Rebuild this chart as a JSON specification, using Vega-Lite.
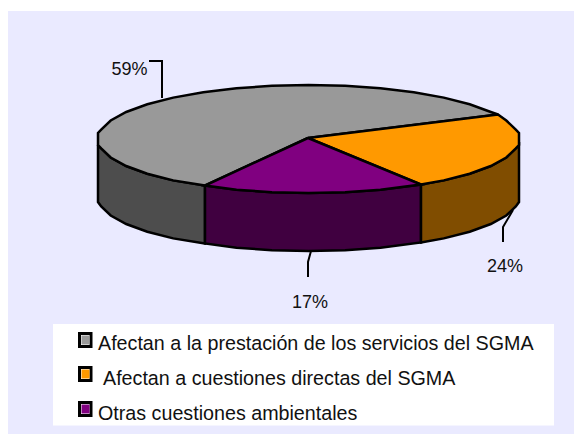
{"$schema":"https://vega.github.io/schema/vega-lite/v6.json","width":574,"height":438,"padding":0,"autosize":{"type":"none"},"background":"white","view":{"stroke":null},
"datasets":{
"panels":[{"part":"panel","x":8,"x2":574,"y":11,"y2":434},{"part":"legend box","x":53,"x2":554,"y":324,"y2":425.5}],
"slices":[
{"part":"side gray","seq":1,"x":98,"y":145},{"part":"side gray","seq":2,"x":101.2,"y":148.4},{"part":"side gray","seq":3,"x":110.7,"y":157.5},{"part":"side gray","seq":4,"x":126.2,"y":166},{"part":"side gray","seq":5,"x":147.3,"y":173.7},{"part":"side gray","seq":6,"x":173.2,"y":180.4},{"part":"side gray","seq":7,"x":205,"y":185.5},{"part":"side gray","seq":8,"x":205,"y":243.5},{"part":"side gray","seq":9,"x":173.2,"y":238.4},{"part":"side gray","seq":10,"x":147.3,"y":231.7},{"part":"side gray","seq":11,"x":126.2,"y":224},{"part":"side gray","seq":12,"x":110.7,"y":215.5},{"part":"side gray","seq":13,"x":101.2,"y":206.4},{"part":"side gray","seq":14,"x":98,"y":202},{"part":"side gray","seq":15,"x":98,"y":145},
{"part":"side purple","seq":1,"x":205,"y":185.5},{"part":"side purple","seq":2,"x":236.5,"y":189.8},{"part":"side purple","seq":3,"x":271.9,"y":192.2},{"part":"side purple","seq":4,"x":308.5,"y":193},{"part":"side purple","seq":5,"x":345.1,"y":192.2},{"part":"side purple","seq":6,"x":380.5,"y":189.8},{"part":"side purple","seq":7,"x":421,"y":184.5},{"part":"side purple","seq":8,"x":421,"y":242.5},{"part":"side purple","seq":9,"x":380.5,"y":247.8},{"part":"side purple","seq":10,"x":345.1,"y":250.2},{"part":"side purple","seq":11,"x":308.5,"y":251},{"part":"side purple","seq":12,"x":271.9,"y":250.2},{"part":"side purple","seq":13,"x":236.5,"y":247.8},{"part":"side purple","seq":14,"x":205,"y":243.5},{"part":"side purple","seq":15,"x":205,"y":185.5},
{"part":"side orange","seq":1,"x":421,"y":184.5},{"part":"side orange","seq":2,"x":443.8,"y":180.4},{"part":"side orange","seq":3,"x":469.7,"y":173.7},{"part":"side orange","seq":4,"x":490.8,"y":166},{"part":"side orange","seq":5,"x":506.3,"y":157.5},{"part":"side orange","seq":6,"x":515.8,"y":148.4},{"part":"side orange","seq":7,"x":519,"y":145},{"part":"side orange","seq":8,"x":519,"y":202},{"part":"side orange","seq":9,"x":515.8,"y":206.4},{"part":"side orange","seq":10,"x":506.3,"y":215.5},{"part":"side orange","seq":11,"x":490.8,"y":224},{"part":"side orange","seq":12,"x":469.7,"y":231.7},{"part":"side orange","seq":13,"x":443.8,"y":238.4},{"part":"side orange","seq":14,"x":421,"y":242.5},{"part":"side orange","seq":15,"x":421,"y":184.5},
{"part":"top gray","seq":1,"x":308,"y":138},{"part":"top gray","seq":2,"x":205,"y":185.5},{"part":"top gray","seq":3,"x":173.2,"y":180.4},{"part":"top gray","seq":4,"x":147.3,"y":173.7},{"part":"top gray","seq":5,"x":126.2,"y":166},{"part":"top gray","seq":6,"x":110.7,"y":157.5},{"part":"top gray","seq":7,"x":101.2,"y":148.4},{"part":"top gray","seq":8,"x":98,"y":145},{"part":"top gray","seq":9,"x":98,"y":133},{"part":"top gray","seq":10,"x":101.2,"y":129.6},{"part":"top gray","seq":11,"x":110.7,"y":120.5},{"part":"top gray","seq":12,"x":126.2,"y":112},{"part":"top gray","seq":13,"x":147.3,"y":104.3},{"part":"top gray","seq":14,"x":173.2,"y":97.6},{"part":"top gray","seq":15,"x":203.3,"y":92.2},{"part":"top gray","seq":16,"x":236.5,"y":88.2},{"part":"top gray","seq":17,"x":271.9,"y":85.8},{"part":"top gray","seq":18,"x":308.5,"y":85},{"part":"top gray","seq":19,"x":345.1,"y":85.8},{"part":"top gray","seq":20,"x":380.5,"y":88.2},{"part":"top gray","seq":21,"x":413.8,"y":92.2},{"part":"top gray","seq":22,"x":443.8,"y":97.6},{"part":"top gray","seq":23,"x":469.7,"y":104.3},{"part":"top gray","seq":24,"x":490.8,"y":112},{"part":"top gray","seq":25,"x":498,"y":114.5},{"part":"top gray","seq":26,"x":308,"y":138},
{"part":"top orange","seq":1,"x":308,"y":138},{"part":"top orange","seq":2,"x":498,"y":114.5},{"part":"top orange","seq":3,"x":506.3,"y":120.5},{"part":"top orange","seq":4,"x":515.8,"y":129.6},{"part":"top orange","seq":5,"x":519,"y":133},{"part":"top orange","seq":6,"x":519,"y":145},{"part":"top orange","seq":7,"x":515.8,"y":148.4},{"part":"top orange","seq":8,"x":506.3,"y":157.5},{"part":"top orange","seq":9,"x":490.8,"y":166},{"part":"top orange","seq":10,"x":469.7,"y":173.7},{"part":"top orange","seq":11,"x":443.8,"y":180.4},{"part":"top orange","seq":12,"x":421,"y":184.5},{"part":"top orange","seq":13,"x":308,"y":138},
{"part":"top purple","seq":1,"x":308,"y":138},{"part":"top purple","seq":2,"x":421,"y":184.5},{"part":"top purple","seq":3,"x":380.5,"y":189.8},{"part":"top purple","seq":4,"x":345.1,"y":192.2},{"part":"top purple","seq":5,"x":308.5,"y":193},{"part":"top purple","seq":6,"x":271.9,"y":192.2},{"part":"top purple","seq":7,"x":236.5,"y":189.8},{"part":"top purple","seq":8,"x":205,"y":185.5},{"part":"top purple","seq":9,"x":308,"y":138}
],
"leaders":[
{"share":"59%","seq":1,"x":149,"y":61},{"share":"59%","seq":2,"x":162,"y":61},{"share":"59%","seq":3,"x":162,"y":98},
{"share":"24%","seq":1,"x":513,"y":210},{"share":"24%","seq":2,"x":503,"y":227},{"share":"24%","seq":3,"x":503,"y":242},
{"share":"17%","seq":1,"x":311,"y":251},{"share":"17%","seq":2,"x":308,"y":262},{"share":"17%","seq":3,"x":308,"y":277}
],
"shares":[{"share":"59%","x":129.5,"y":70},{"share":"24%","x":505,"y":267},{"share":"17%","x":310,"y":303}],
"legend":[
{"category":"Afectan a la prestación de los servicios del SGMA","group":"gray","sx":79.5,"sx2":91,"sy":333.5,"sy2":346.5,"ix":81.5,"ix2":89.5,"iy":335.5,"iy2":344.5,"tx":98,"ty":344},
{"category":" Afectan a cuestiones directas del SGMA","group":"orange","sx":79.5,"sx2":91,"sy":367.5,"sy2":380.5,"ix":81.5,"ix2":89.5,"iy":369.5,"iy2":378.5,"tx":103,"ty":379},
{"category":"Otras cuestiones ambientales","group":"purple","sx":79.5,"sx2":91,"sy":402.5,"sy2":415.5,"ix":81.5,"ix2":89.5,"iy":404.5,"iy2":413.5,"tx":98,"ty":414}
]},
"resolve":{"scale":{"color":"independent"}},
"layer":[
{"data":{"name":"panels"},"mark":{"type":"rect"},"encoding":{"x":{"field":"x","type":"quantitative","scale":{"domain":[0,574],"nice":false,"zero":false},"axis":null},"x2":{"field":"x2"},"y":{"field":"y","type":"quantitative","scale":{"domain":[438,0],"nice":false,"zero":false},"axis":null},"y2":{"field":"y2"},"color":{"field":"part","type":"nominal","scale":{"domain":["panel","legend box"],"range":["#EAEAFF","#FFFFFF"]},"legend":null}}},
{"data":{"name":"slices"},"mark":{"type":"line","filled":true,"stroke":"black","strokeWidth":2.5,"strokeJoin":"miter"},"encoding":{"x":{"field":"x","type":"quantitative"},"y":{"field":"y","type":"quantitative"},"order":{"field":"seq","type":"quantitative"},"color":{"field":"part","type":"nominal","scale":{"domain":["side gray","side purple","side orange","top gray","top orange","top purple"],"range":["#4D4D4D","#400040","#804D00","#999999","#FF9900","#800080"]},"legend":null}}},
{"data":{"name":"leaders"},"mark":{"type":"line","color":"black","strokeWidth":2},"encoding":{"x":{"field":"x","type":"quantitative"},"y":{"field":"y","type":"quantitative"},"order":{"field":"seq","type":"quantitative"},"detail":{"field":"share"}}},
{"data":{"name":"shares"},"mark":{"type":"text","font":"Liberation Sans","fontSize":18,"color":"#111111","align":"center","baseline":"middle"},"encoding":{"x":{"field":"x","type":"quantitative"},"y":{"field":"y","type":"quantitative"},"text":{"field":"share"}}},
{"data":{"name":"legend"},"mark":{"type":"rect","fill":"#FFFFFF","stroke":"black","strokeWidth":3},"encoding":{"x":{"field":"sx","type":"quantitative"},"x2":{"field":"sx2"},"y":{"field":"sy","type":"quantitative"},"y2":{"field":"sy2"}}},
{"data":{"name":"legend"},"mark":{"type":"rect"},"encoding":{"x":{"field":"ix","type":"quantitative"},"x2":{"field":"ix2"},"y":{"field":"iy","type":"quantitative"},"y2":{"field":"iy2"},"color":{"field":"group","type":"nominal","scale":{"domain":["gray","orange","purple"],"range":["#999999","#FF9900","#800080"]},"legend":null}}},
{"data":{"name":"legend"},"mark":{"type":"text","font":"Liberation Sans","fontSize":19.7,"color":"#111111","align":"left","baseline":"middle"},"encoding":{"x":{"field":"tx","type":"quantitative"},"y":{"field":"ty","type":"quantitative"},"text":{"field":"category"}}}
]}
